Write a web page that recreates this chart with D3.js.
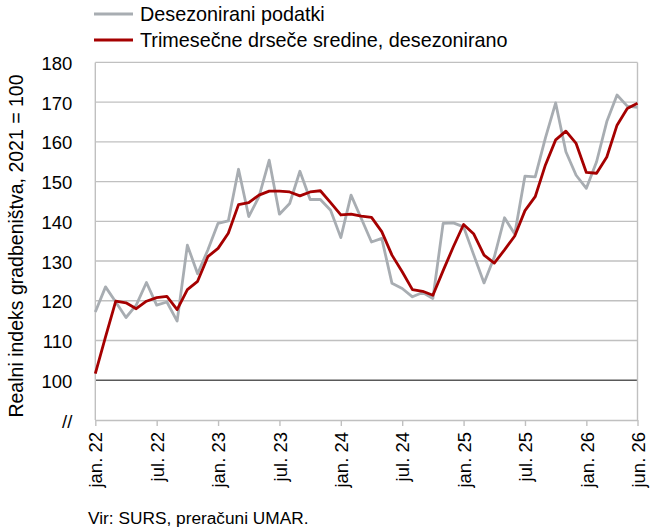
<!DOCTYPE html>
<html>
<head>
<meta charset="utf-8">
<script src="https://cdn.jsdelivr.net/npm/d3@7"></script>
<style>
	body { margin: 0; background: #fff; }
	text { font-family: "Liberation Sans", Arial, sans-serif; fill: #000; }
</style>
</head>
<body>
<div id="chart"></div>
<script>
var monthNames = ["jan.", "feb.", "mar.", "apr.", "maj", "jun.", "jul.", "avg.", "sep.", "okt.", "nov.", "dec."];
var years = ["22", "23", "24", "25", "26"];

// desezonirani podatki, jan. 22 - jun. 26
var seasonalAdj = [
	117.2, 123.5, 119.7, 115.8, 118.9, 124.6, 118.9, 119.7, 114.9, 134.0, 126.8, 132.8,
	139.5, 140.1, 153.1, 141.2, 146.2, 155.4, 141.8, 144.5, 152.6, 145.5, 145.5, 142.8,
	135.9, 146.6, 140.7, 134.8, 135.7, 124.4, 123.1, 121.0, 122.1, 120.6, 139.5, 139.6,
	138.6, 131.5, 124.5, 131.0, 140.9, 136.8, 151.4, 151.2, 161.0, 169.8, 157.5, 151.6,
	148.3, 155.0, 165.1, 171.8, 169.0, 168.7
];
// trimesečne drseče sredine
var movingAvg = [
	101.7, 110.9, 119.9, 119.5, 118.0, 119.9, 120.8, 121.1, 117.8, 122.8, 124.9, 131.1,
	133.2, 137.0, 144.2, 144.7, 146.6, 147.6, 147.6, 147.4, 146.4, 147.4, 147.7, 144.7,
	141.6, 141.8, 141.3, 141.0, 137.4, 131.5, 127.3, 122.8, 122.4, 121.4, 127.6, 133.6,
	139.2, 136.8, 131.5, 129.5, 132.8, 136.3, 142.7, 146.2, 154.2, 160.5, 162.7, 159.6,
	152.3, 152.1, 156.2, 164.2, 168.4, 169.7
];
var yTicks = [100, 110, 120, 130, 140, 150, 160, 170, 180];
var xTickLabels = ["jan. 22", "jul. 22", "jan. 23", "jul. 23", "jan. 24", "jul. 24", "jan. 25", "jul. 25", "jan. 26", "jun. 26"];

var months = [];
years.forEach(function (y) {
	monthNames.forEach(function (m) { months.push(m + " " + y); });
});
months = months.slice(0, seasonalAdj.length);

var width = 651, height = 532;
var margin = {top: 62.4, right: 13.5, bottom: 112, left: 95.3};

var svg = d3.select("#chart").append("svg")
	.attr("width", width)
	.attr("height", height);

var x = d3.scalePoint()
	.domain(months)
	.range([margin.left, width - margin.right]);

var y = d3.scaleLinear()
	.domain([90, 180])
	.range([height - margin.bottom, margin.top]);

var x0 = margin.left, x1 = width - margin.right;
var y0 = height - margin.bottom, y1 = margin.top;

// gridlines
svg.append("g")
	.selectAll("line")
	.data(yTicks)
	.enter().append("line")
		.attr("x1", x0)
		.attr("x2", x1)
		.attr("y1", function (d) { return y(d); })
		.attr("y2", function (d) { return y(d); })
		.style("stroke", function (d) { return d === 100 ? "#595959" : "#c0c0c0"; })
		.style("stroke-width", function (d) { return d === 100 ? 1.6 : 1.4; });

// frame left/right
svg.append("line").attr("x1", x0).attr("x2", x0).attr("y1", y1).attr("y2", y0)
	.style("stroke", "#c0c0c0").style("stroke-width", 1.4);
svg.append("line").attr("x1", x1).attr("x2", x1).attr("y1", y1).attr("y2", y0)
	.style("stroke", "#c0c0c0").style("stroke-width", 1.4);

// y axis labels
var yAxis = d3.axisLeft(y)
	.tickValues([90].concat(yTicks))
	.tickSize(0)
	.tickPadding(23)
	.tickFormat(function (d) { return d === 90 ? "//" : d; });

var gy = svg.append("g")
	.attr("transform", "translate(" + x0 + ",0)")
	.call(yAxis);
gy.select(".domain").remove();
gy.selectAll("text")
	.style("font-size", "18.5px")
	.style("font-family", "Liberation Sans, Arial, sans-serif")
	.attr("dy", "0.38em");

// x axis
var xAxis = d3.axisBottom(x)
	.tickValues(xTickLabels)
	.tickSizeInner(6)
	.tickSizeOuter(0)
	.tickPadding(0);

var gx = svg.append("g")
	.attr("transform", "translate(0," + y0 + ")")
	.call(xAxis);
gx.select(".domain").style("stroke", "#c0c0c0").style("stroke-width", 1.4);
gx.selectAll(".tick line").style("stroke", "#c0c0c0").style("stroke-width", 1.4);
gx.selectAll("text")
	.style("font-size", "18.5px")
	.style("font-family", "Liberation Sans, Arial, sans-serif")
	.style("text-anchor", "end")
	.attr("transform", "rotate(-90)")
	.attr("x", -12)
	.attr("y", 0)
	.attr("dy", "0.36em");

// lines
var line = d3.line()
	.x(function (d, i) { return x(months[i]); })
	.y(function (d) { return y(d); });

svg.append("path")
	.datum(seasonalAdj)
	.attr("d", line)
	.style("fill", "none")
	.style("stroke", "#a8adb2")
	.style("stroke-width", 2.8)
	.style("stroke-linejoin", "round");

svg.append("path")
	.datum(movingAvg)
	.attr("d", line)
	.style("fill", "none")
	.style("stroke", "#a50000")
	.style("stroke-width", 2.8)
	.style("stroke-linejoin", "round");

// y title
svg.append("text")
	.attr("transform", "translate(23," + ((y0 + 72) / 2) + ") rotate(-90)")
	.style("text-anchor", "middle")
	.style("font-size", "19.5px")
	.text("Realni indeks gradbeništva, 2021 = 100");

// legend
var legend = [
	{name: "Desezonirani podatki", color: "#a8adb2"},
	{name: "Trimesečne drseče sredine, desezonirano", color: "#a50000"}
];
var lg = svg.append("g").selectAll("g")
	.data(legend)
	.enter().append("g")
		.attr("transform", function (d, i) { return "translate(94," + (14 + i * 26) + ")"; });
lg.append("line")
	.attr("x1", 0).attr("x2", 39)
	.style("stroke", function (d) { return d.color; })
	.style("stroke-width", 3);
lg.append("text")
	.attr("x", 46)
	.attr("dy", "0.35em")
	.style("font-size", "19.8px")
	.text(function (d) { return d.name; });

// source
svg.append("text")
	.attr("x", 88)
	.attr("y", 524)
	.style("font-size", "17.3px")
	.text("Vir: SURS, preračuni UMAR.");
</script>
</body>
</html>
